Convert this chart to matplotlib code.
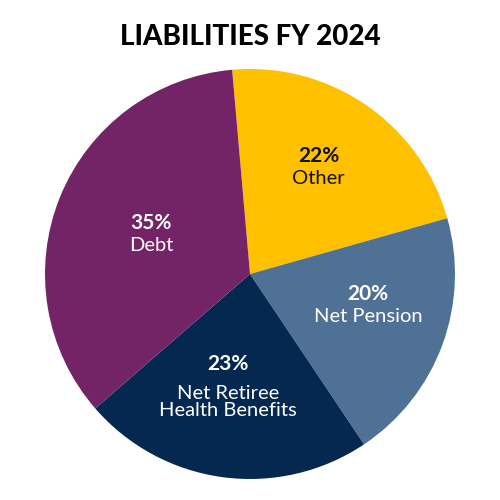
import numpy as np
import matplotlib
matplotlib.use("Agg")
import matplotlib.pyplot as plt

# data
categories = ["Other", "Net Pension", "Net Retiree\nHealth Benefits", "Debt"]
shares = [22, 20, 23, 35]
colors = ["#FFC000", "#4F7196", "#052850", "#722467"]
text_colors = ["#111111", "white", "white", "white"]

# label placement (radius as fraction of pie radius, angle nudge in degrees)
label_r = [0.62, 0.595, 0.56, 0.52]
label_da = [2.0, 5.5, -3.5, 0.0]

plt.rcParams["font.family"] = ["Lato", "DejaVu Sans"]

fig = plt.figure(figsize=(5, 5), dpi=100)
ax = fig.add_axes([45 / 500, 21 / 500, 410 / 500, 410 / 500])

wedges, _ = ax.pie(shares, colors=colors, startangle=95, counterclock=False,
                   radius=1.0, wedgeprops=dict(linewidth=0))
ax.set_xlim(-1, 1)
ax.set_ylim(-1, 1)
ax.set_aspect("equal")

for w, name, pct, tc, r, da in zip(wedges, categories, shares, text_colors, label_r, label_da):
    mid = np.deg2rad((w.theta1 + w.theta2) / 2 + da)
    x, y = r * np.cos(mid), r * np.sin(mid)
    nlines = name.count("\n") + 1
    # percent on top, name underneath
    ax.text(x, y + 0.055 * nlines, f"{pct}%", ha="center", va="center",
            fontsize=15, fontweight="bold", color=tc)
    if nlines == 1:
        ax.text(x, y - 0.055, name, ha="center", va="center", fontsize=14.5, color=tc)
    else:
        ax.text(x, y + 0.01, name, ha="center", va="top", fontsize=14.5, color=tc,
                linespacing=1.05)

fig.text(0.5, 1 - 37 / 500, "LIABILITIES FY 2024", ha="center", va="center",
         fontsize=20, fontweight="black", color="black")

fig.savefig("out.png", dpi=100)
